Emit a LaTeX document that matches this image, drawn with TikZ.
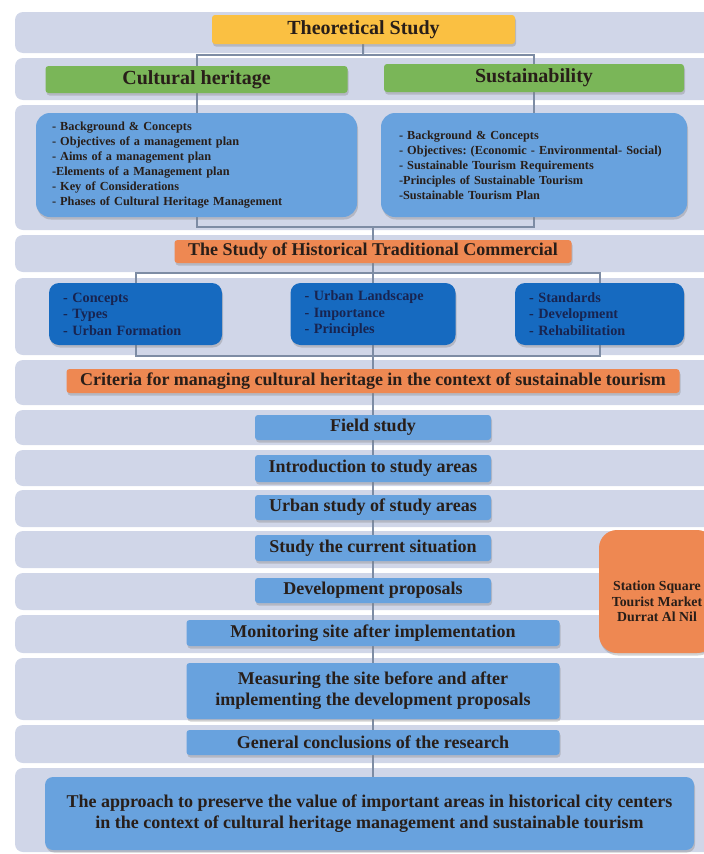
\documentclass[tikz,border=0pt]{standalone}
\usepackage{fontspec}
\setmainfont{Liberation Serif}
\usetikzlibrary{shadows,backgrounds,positioning}
\frenchspacing

\definecolor{bandfill}{RGB}{208,214,232}
\definecolor{theofill}{RGB}{250,192,66}
\definecolor{greenfill}{RGB}{122,182,88}
\definecolor{lightblue}{RGB}{104,162,222}
\definecolor{darkblue}{RGB}{22,106,192}
\definecolor{orangefill}{RGB}{238,136,82}
\definecolor{linkgray}{RGB}{125,140,164}
\definecolor{textdark}{RGB}{40,30,25}
\definecolor{textnavy}{RGB}{24,36,80}

\pgfdeclarelayer{bands}
\pgfdeclarelayer{links}
\pgfsetlayers{bands,links,main}

\newcommand{\bandrow}[2]{\fill[bandfill, rounded corners=8pt] (15,#1) rectangle (716,#2);}

\tikzset{
  box/.style={rounded corners=3pt, inner sep=0pt, text=textdark,
    drop shadow={shadow xshift=1pt, shadow yshift=-2.5pt, opacity=0.35}},
  headbox/.style={box, font=\bfseries\fontsize{20}{22}\selectfont},
  midbox/.style={box, fill=orangefill, font=\bfseries\fontsize{18}{21}\selectfont},
  listbox/.style={box, fill=lightblue, rounded corners=14pt, align=left,
    font=\bfseries\fontsize{12.3}{15}\selectfont},
  topicbox/.style={box, fill=darkblue, rounded corners=10pt, align=left, text=textnavy,
    minimum width=#1, text width=#1-28, inner xsep=14pt, minimum height=62,
    font=\bfseries\fontsize{14.2}{16.5}\selectfont},
  flowbox/.style={box, fill=lightblue, align=center,
    font=\bfseries\fontsize{18}{21}\selectfont},
  link/.style={draw=linkgray, line width=2pt}
}

\begin{document}
\begin{tikzpicture}[x=1pt, y=-1pt]
\useasboundingbox (0,0) rectangle (704,854);

% theoretical part
\node[headbox, fill=theofill, minimum width=303, minimum height=29] (theo) at (363.5,29.5) {Theoretical Study};
\node[headbox, fill=greenfill, minimum width=302, minimum height=27] (cult) at (196.5,79.5) {Cultural heritage};
\node[headbox, fill=greenfill, minimum width=300, minimum height=28] (sust) at (534,78) {Sustainability};

\node[listbox, minimum width=321, text width=289, inner xsep=16pt, minimum height=104] (cultlist) at (196.5,165) {%
- Background \& Concepts\\
- Objectives of a management plan\\
- Aims of a management plan\\
-Elements of a Management plan\\
- Key of Considerations\\
- Phases of Cultural Heritage Management};
\node[listbox, minimum width=306, text width=270, inner xsep=18pt, minimum height=104] (sustlist) at (534,165) {%
- Background \& Concepts\\
- Objectives: (Economic - Environmental- Social)\\
- Sustainable Tourism Requirements\\
-Principles of Sustainable Tourism\\
-Sustainable Tourism Plan};

% commercial study
\node[midbox, minimum width=397, minimum height=23] (hist) at (373,251.5) {The Study of Historical Traditional Commercial};
\node[topicbox=173] (con1) at (135.5,314) {- Concepts\\- Types\\- Urban Formation};
\node[topicbox=165] (con2) at (373,314) {- Urban Landscape\\- Importance\\- Principles};
\node[topicbox=169] (con3) at (599.5,314) {- Standards\\- Development\\- Rehabilitation};
\node[midbox, minimum width=613, minimum height=24] (crit) at (373,381) {Criteria for managing cultural heritage in the context of sustainable tourism};

% field study
\node[flowbox, minimum width=236, minimum height=25] (field) at (373,427.5) {Field study};
\node[flowbox, minimum width=236, minimum height=27] (intro) at (373,468.5) {Introduction to study areas};
\node[flowbox, minimum width=236, minimum height=25] (urban) at (373,507.5) {Urban study of study areas};
\node[flowbox, minimum width=236, minimum height=26] (current) at (373,548) {Study the current situation};
\node[flowbox, minimum width=236, minimum height=25] (devprop) at (373,590.5) {Development proposals};
\node[flowbox, minimum width=373, minimum height=26] (monit) at (373,633) {Monitoring site after implementation};
\node[flowbox, minimum width=373, minimum height=56] (measure) at (373,691) {Measuring the site before and after\\implementing the development proposals};
\node[flowbox, minimum width=373, minimum height=25] (concl) at (373,742.5) {General conclusions of the research};
\node[flowbox, rounded corners=8pt, minimum width=649, minimum height=73,
  font=\bfseries\fontsize{18}{20.5}\selectfont] (approach) at (369.5,813.5)
  {The approach to preserve the value of important areas in historical city centers\\
   in the context of cultural heritage management and sustainable tourism};

\begin{scope}
\clip (0,0) rectangle (704,854);
\node[box, fill=orangefill, rounded corners=18pt, minimum width=116, minimum height=123, align=center,
  font=\bfseries\fontsize{13.8}{15.5}\selectfont] (sites) at (657,591.5)
  {\rule{0pt}{30pt}Station Square\\Tourist Market\\Durrat Al Nil};
\end{scope}

% background rows
\begin{pgfonlayer}{bands}
\clip (0,0) rectangle (704,854);
\foreach \top/\bot in {12/53, 58/100, 105/230, 235/272, 278/355, 360/405, 410/445, 450/486,
  490/527, 531/568, 573/610, 615/653, 658/720, 725/763, 768/852}
  {\bandrow{\top}{\bot}}
\end{pgfonlayer}

% connectors
\begin{pgfonlayer}{links}
\coordinate (split1) at (363,55);
\coordinate (join1) at (373,227);
\coordinate (split2) at (373,273);
\coordinate (join2) at (373,356);
\draw[link] (theo) -- (split1);
\draw[link] (cult.north) |- (split1) -| (sust.north);
\draw[link] (cult) -- (cultlist);
\draw[link] (sust) -- (sustlist);
\draw[link] (cultlist) |- (join1) -| (sustlist);
\draw[link] (join1) -- (hist);
\draw[link] (con1) |- (split2) -| (con3);
\draw[link] (hist) -- (con2);
\draw[link] (con1) |- (join2) -| (con3);
\draw[link] (con2) -- (crit) -- (field) -- (intro) -- (urban) -- (current)
  -- (devprop) -- (monit) -- (measure) -- (concl) -- (concl |- approach.north);
\end{pgfonlayer}
\end{tikzpicture}
\end{document}
